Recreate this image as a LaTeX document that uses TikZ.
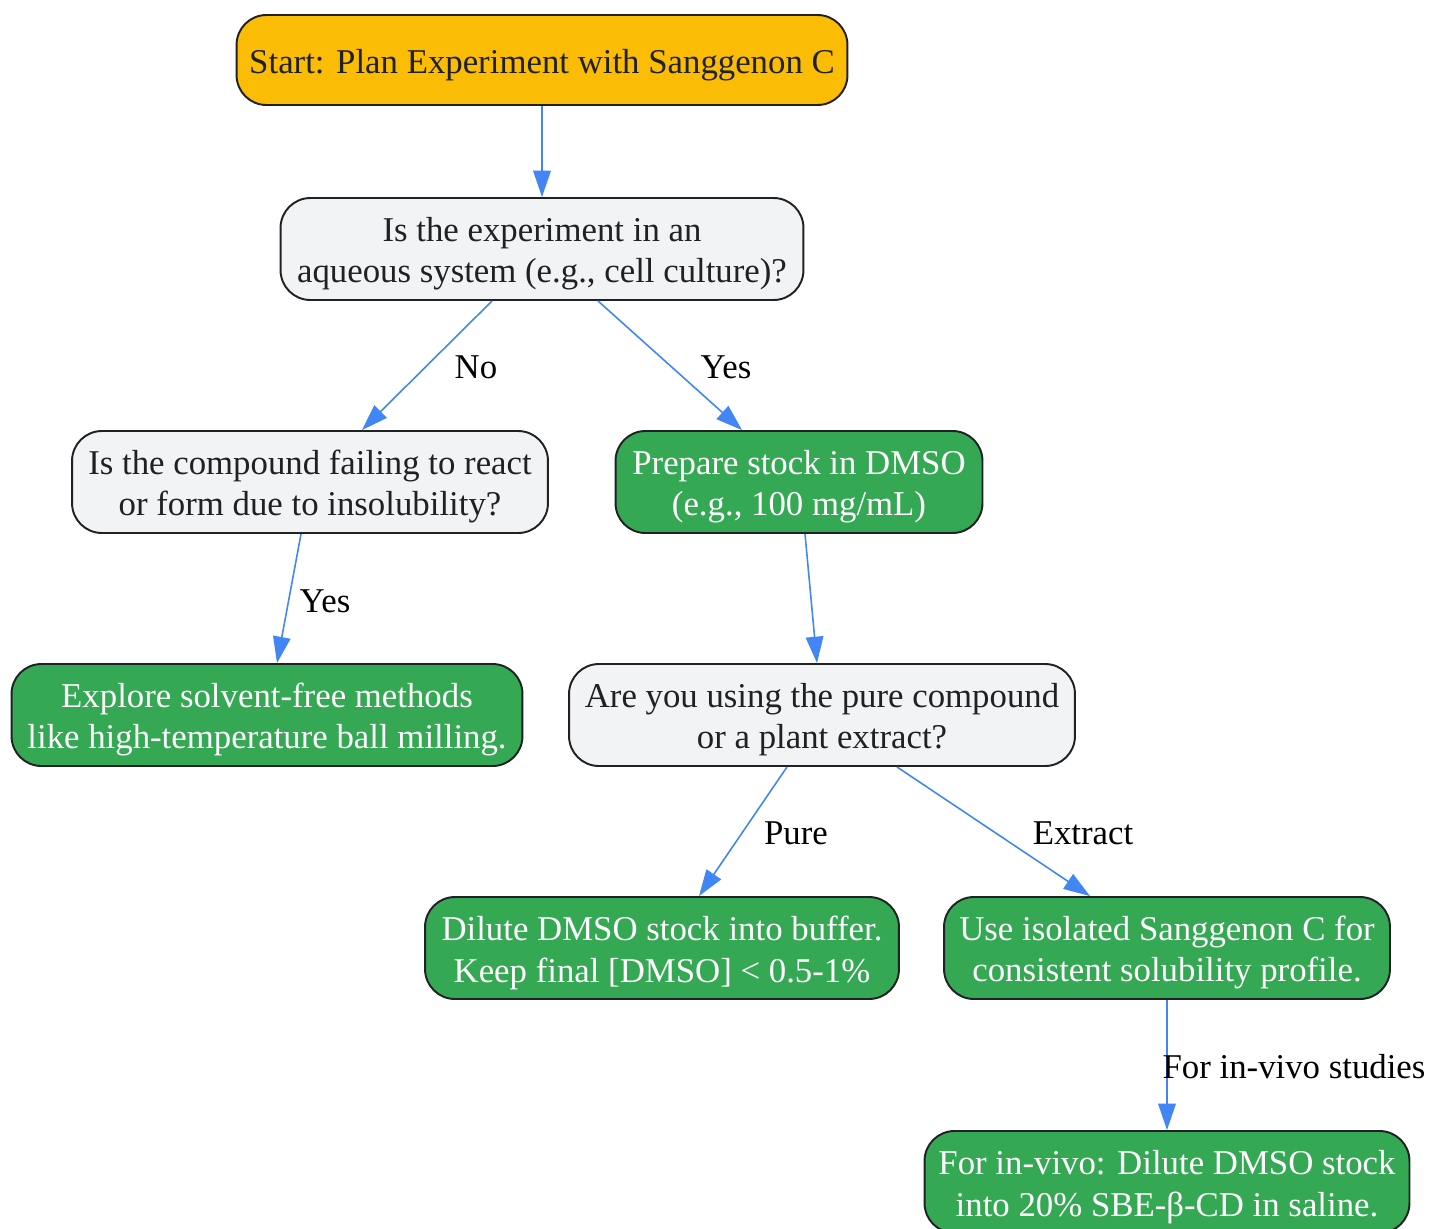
\documentclass[tikz,border=0pt]{standalone}
\usepackage{fontspec}
\setmainfont{Liberation Serif}
\usetikzlibrary{positioning,shapes,arrows.meta}
\definecolor{startyellow}{HTML}{FBBC05}
\definecolor{questiongrey}{HTML}{F1F3F4}
\definecolor{actiongreen}{HTML}{34A853}
\definecolor{arrowblue}{HTML}{4285F4}
\definecolor{darktext}{HTML}{202124}
\newcommand{\NodeStrut}{\rule{0pt}{19.5pt}}
\tikzstyle{BaseNode}=[rectangle, rounded corners=17pt, draw=darktext, line width=1.1pt, align=center, inner sep=0pt, minimum height=2.04cm, font=\fontsize{19.8}{23.4}\selectfont]
\tikzstyle{StartNode}=[BaseNode, fill=startyellow, text=darktext, minimum height=1.8cm]
\tikzstyle{QuestionNode}=[BaseNode, fill=questiongrey, text=darktext]
\tikzstyle{ActionNode}=[BaseNode, fill=actiongreen, text=white]
\tikzstyle{FlowArrow}=[draw=arrowblue, line width=0.9pt, -{Triangle[length=15pt,width=10pt]}, arrowblue]
\tikzstyle{EdgeLabel}=[text=black, inner sep=0pt, font=\fontsize{19.8}{23.4}\selectfont]

\begin{document}
\begin{tikzpicture}[x=0.02cm, y=-0.02cm]
      \useasboundingbox (0,0) rectangle (1430,1228);
      \node[StartNode, minimum width=12.22cm] (1) at (542,60) {\NodeStrut Start: Plan Experiment with Sanggenon C};
      \node[QuestionNode, minimum width=10.46cm] (2) at (542,249) {\NodeStrut Is the experiment in an\\aqueous system (e.g., cell culture)?};
      \node[QuestionNode, minimum width=9.52cm] (3) at (310,482) {\NodeStrut Is the compound failing to react\\or form due to insolubility?};
      \node[ActionNode, minimum width=7.34cm] (4) at (799,482) {\NodeStrut Prepare stock in DMSO\\(e.g., 100 mg/mL)};
      \node[ActionNode, minimum width=10.22cm] (5) at (267,715) {\NodeStrut Explore solvent-free methods\\like high-temperature ball milling.};
      \node[QuestionNode, minimum width=10.12cm] (6) at (822,715) {\NodeStrut Are you using the pure compound\\or a plant extract?};
      \node[ActionNode, minimum width=9.48cm] (7) at (662,948) {\NodeStrut Dilute DMSO stock into buffer.\\Keep final [DMSO] < 0.5-1\%};
      \node[ActionNode, minimum width=8.92cm] (8) at (1167,948) {\NodeStrut Use isolated Sanggenon C for\\consistent solubility profile.};
      \node[ActionNode, minimum width=9.7cm] (9) at (1167,1182) {\NodeStrut For in-vivo: Dilute DMSO stock\\into 20\% SBE-β-CD in saline.};
      \draw[FlowArrow] (1.south) -- (2.north);
      \draw[FlowArrow] ([xshift=-1cm]2.south) -- ([xshift=1.04cm]3.north);
      \draw[FlowArrow] ([xshift=1.12cm]2.south) -- ([xshift=-1.14cm]4.north);
      \draw[FlowArrow] ([xshift=-0.18cm]3.south) -- ([xshift=0.2cm]5.north);
      \draw[FlowArrow] ([xshift=0.12cm]4.south) -- ([xshift=-0.1cm]6.north);
      \draw[FlowArrow] ([xshift=-0.7cm]6.south) -- ([xshift=0.74cm]7.north);
      \draw[FlowArrow] ([xshift=1.5cm]6.south) -- ([xshift=-1.54cm]8.north);
      \draw[FlowArrow] (8.south) -- (9.north);
      \node[EdgeLabel] (no) at (476,367) {No};
      \node[EdgeLabel] (yes1) at (726,367) {Yes};
      \node[EdgeLabel] (yes2) at (325,601) {Yes};
      \node[EdgeLabel] (pure) at (796,833) {Pure};
      \node[EdgeLabel] (extract) at (1083,833) {Extract};
      \node[EdgeLabel] (invivo) at (1294,1067) {For in-vivo studies};
    \end{tikzpicture}
\end{document}
